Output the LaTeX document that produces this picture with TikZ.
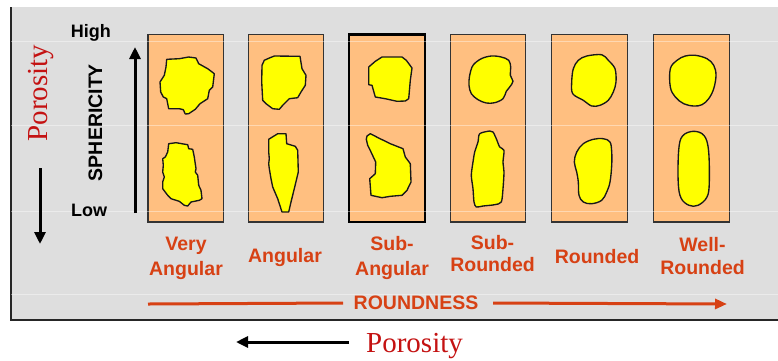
\documentclass[tikz,border=0pt]{standalone}
\usepackage{fontspec}
\setmainfont{Liberation Serif}
\setsansfont{Liberation Sans}
\usetikzlibrary{arrows.meta}
\definecolor{panelgray}{RGB}{222,222,222}
\definecolor{peach}{RGB}{255,191,128}
\definecolor{grainyellow}{RGB}{255,255,0}
\definecolor{labelred}{RGB}{215,65,20}
\definecolor{porored}{RGB}{196,18,18}
\definecolor{boxedge}{RGB}{51,51,51}

\begin{document}
\begin{tikzpicture}[x=1pt,y=-1pt,
  grainbox/.style={draw=boxedge, line width=1.2pt, fill=peach,
    minimum width=75.5pt, minimum height=187.5pt, inner sep=0pt},
  grain/.style={draw=black!90, line width=1.35pt, fill=grainyellow, line join=round},
  axislabel/.style={font=\fontsize{18}{20}\selectfont\sffamily\bfseries, inner sep=0pt},
  classlabel/.style={font=\fontsize{19.5}{22}\selectfont\sffamily\bfseries,
    text=labelred, inner sep=0pt, anchor=base},
  porotext/.style={font=\fontsize{29}{32}\selectfont\rmfamily, text=porored, inner sep=0pt},
  blackarrow/.style={line width=3pt, -{Triangle[length=12pt,width=11pt]}},
  redline/.style={draw=labelred, line width=3pt},
  gridline/.style={draw=white, opacity=0.4, line width=0.8pt},
]
\useasboundingbox (0,0) rectangle (778,360);
\fill[white] (0,0) rectangle (778,360);

% grey panel with left and bottom border
\fill[panelgray] (11,7) rectangle (778,320);
\draw[line width=1.2pt, black!85] (11,7) -- (11,320) -- (778,320);

% the six class boxes
\node[grainbox] (box1) at (185.8,128.3) {};
\node[grainbox] (box2) at (286.0,128.3) {};
\node[grainbox, draw=black, line width=2.4pt] (box3) at (387.0,128.3) {};
\node[grainbox] (box4) at (488.0,128.3) {};
\node[grainbox] (box5) at (589.5,128.3) {};
\node[grainbox] (box6) at (691.5,128.3) {};

% faint horizontal rules across the panel
\foreach \gy in {41,125,211,294}
  \draw[gridline] (11,\gy) -- (778,\gy);

% very angular grains
\begin{scope}[shift={(146,32)}]
  \draw[grain] (20.7,27.3) -- (33.3,26.7) -- (42.7,25) -- (50,26) -- (52.7,31.7)
    -- (61.7,36.7) -- (68.3,41.7) -- (66.7,55) -- (63.3,58.3) -- (61.7,66.7)
    -- (54,71.7) -- (49.3,77.3) -- (42.7,81.7) -- (39.3,82) -- (37.3,77.7)
    -- (33.3,76.7) -- (22.7,76.7) -- (20.7,66.7) -- (17.3,65) -- (14.7,60)
    -- (14,50) -- (18.3,43.3) -- (20,35) -- cycle;
  \draw[grain] (22.7,111.7) -- (30,110.7) -- (41.7,112.7) -- (42.7,116.7)
    -- (46.7,117.3) -- (48.3,125) -- (50,136.7) -- (49.3,140) -- (51.7,143.3)
    -- (52.7,153.3) -- (55,158.3) -- (56,166.7) -- (53.3,168.3) -- (45,170)
    -- (41.7,174) -- (38.3,173.3) -- (33.3,169.3) -- (25,166.7) -- (21.7,163.3)
    -- (16.7,156.7) -- (16.7,150) -- (18.3,145) -- (16.7,140) -- (17.3,133.3)
    -- (16.7,126.7) -- (19.3,125) -- (21.7,120) -- cycle;
\end{scope}

% angular grains
\begin{scope}[shift={(246,32)}]
  \draw[grain] (16,33.3) -- (18.3,28.3) -- (21.7,26.7) -- (28.3,24) -- (54,24.3)
    -- (56,36.7) -- (60,43.3) -- (59.3,53.3) -- (55,60) -- (51.7,65.7)
    -- (43.3,66.7) -- (36.7,73.3) -- (33.3,77.3) -- (26.7,76.7) -- (20,71.7)
    -- (16.7,68.3) -- (15.7,50) -- cycle;
  \draw[grain] (22.7,107.3) -- (31.7,101.7) -- (40,101.7) -- (40.7,111.7)
    -- (49.3,114.3) -- (51.7,118.3) -- (52.3,140) -- (48.3,156.7) -- (45,170)
    -- (42.7,180) -- (36,180) -- (31.7,166.7) -- (26.7,155) -- (25,146.7)
    -- (23.3,136.7) -- (22.7,131.7) -- (23.3,126.7) -- (22.7,120) -- cycle;
\end{scope}

% sub-angular grains
\begin{scope}[shift={(347,32)}]
  \draw[grain] (21.7,35) -- (28.3,29.3) -- (35,25) -- (55,25) -- (59.3,28.3)
    -- (65,36) -- (63.3,48.3) -- (61.7,66.7) -- (58.3,69) -- (50,69.3)
    -- (38.3,66.7) -- (28.3,65) -- (25,53.3) -- (21.7,52.7) -- cycle;
  \draw[grain] (20,104) -- (23.3,101.7) -- (31.7,106) -- (43.3,111.7)
    -- (56,116.7) -- (58.3,125) -- (63.3,131.7) -- (64,150) -- (60,158.3)
    -- (55,163.3) -- (43.3,164.3) -- (35,165.7) -- (24,163.3) -- (22.7,146.7)
    -- (28.3,141.7) -- (28.7,130) -- (24,120) -- (20.7,113.3) -- (19.3,107.3) -- cycle;
\end{scope}

% sub-rounded grains
\begin{scope}[shift={(448,32)}]
  \draw[grain] plot[smooth cycle, tension=0.55] coordinates {
    (21.7,43.3) (25,33.3) (33.3,26.7) (43.3,24) (53.3,25) (60.7,28.3)
    (62.7,35) (62.3,43.3) (65,49.3) (61.7,55) (58.3,59.3) (55,66.7)
    (46.7,70.7) (38.3,71) (30,67.7) (23.3,61.7) (21,53.3)};
  \draw[grain] plot[smooth cycle, tension=0.45] coordinates {
    (31.7,101.7) (41.7,99) (45,100) (48.3,106.7) (51.7,115) (56,118.3)
    (55,130) (56,140) (55,156.7) (53.3,170) (46.7,172.7) (35,174)
    (28.3,175) (26,170) (25,156.7) (23.3,143.3) (25,130) (26.7,120) (30,110)};
\end{scope}

% rounded grains
\begin{scope}[shift={(550,32)}]
  \draw[grain] plot[smooth cycle, tension=0.55] coordinates {
    (23.3,36.7) (28.3,28.3) (36.7,24) (51.7,22.7) (58.3,28.3) (65,36.7)
    (66,50) (63.3,60) (58.3,68.3) (50,73.3) (41.7,74) (33.3,68.3)
    (22.7,61.7) (21.7,50)};
  \draw[grain] plot[smooth cycle, tension=0.6] coordinates {
    (26.7,120) (33.3,111.7) (43.3,107.3) (53.3,106.7) (60,110) (61.7,120)
    (61.7,133.3) (60,150) (56.7,160) (51.7,168.3) (41.7,171.7) (33.3,170)
    (29,163.3) (28.3,150) (26.7,140) (24.3,130)};
\end{scope}

% well-rounded grains
\begin{scope}[shift={(652,32)}]
  \draw[grain] plot[smooth cycle, tension=0.6] coordinates {
    (18.3,36.7) (25,28.3) (33.3,24) (43.3,23.3) (55,26.7) (61.7,33.3)
    (64,43.3) (61.7,56.7) (56.7,66.7) (50,72.7) (41.7,74) (31.7,71.7)
    (23.3,65) (18.3,55)};
  \draw[grain] plot[smooth cycle, tension=0.6] coordinates {
    (41.5,99.3) (52,103.5) (56.5,118) (57.3,150) (55,165) (46,173.3)
    (37,173.3) (29,166) (26.2,150) (26.7,118) (30.5,104)};
\end{scope}

% sphericity axis
\node[axislabel, anchor=base west] (high) at (70.7,37.3) {High};
\node[axislabel, anchor=base west] (low) at (71,216.5) {Low};
\node[axislabel, font=\fontsize{19.5}{22}\selectfont\sffamily\bfseries, rotate=90]
  (spher) at (95.5,122.5) {SPHERICITY};
\coordinate (sphbottom) at (135,213);
\coordinate (sphtop) at (135,47);
\draw[blackarrow] (sphbottom) -- (sphtop);

% porosity on the left
\node[porotext, rotate=90] (poroleft) at (41.5,93) {Porosity};
\coordinate (pdtop) at (40,168);
\coordinate (pdbottom) at (40,244);
\draw[blackarrow] (pdtop) -- (pdbottom);

% class names
\node[classlabel] (vang1) at (186,250.7) {Very};
\node[classlabel] (vang2) at (186,275) {Angular};
\node[classlabel] (ang) at (285,262.3) {Angular};
\node[classlabel] (sang1) at (392,250.7) {Sub-};
\node[classlabel] (sang2) at (392,275) {Angular};
\node[classlabel] (srnd1) at (492.5,249.3) {Sub-};
\node[classlabel] (srnd2) at (492.5,271.7) {Rounded};
\node[classlabel] (rnd) at (597,263.3) {Rounded};
\node[classlabel] (wrnd1) at (702.5,251) {Well-};
\node[classlabel] (wrnd2) at (702.5,274.3) {Rounded};

% roundness axis
\node[classlabel, anchor=center] (round) at (416,303) {ROUNDNESS};
\coordinate (rstart) at (148,304);
\coordinate (rend) at (727,304);
\draw[redline] (rstart) -- (round.west -| 343,0);
\draw[redline, -{Triangle[length=12pt,width=10pt]}] (round.east -| 493,0) -- (rend);

% porosity below
\node[porotext, anchor=base west] (porobottom) at (366,352) {Porosity};
\coordinate (pbright) at (349,342);
\coordinate (pbleft) at (236,342);
\draw[blackarrow] (pbright) -- (pbleft);
\end{tikzpicture}
\end{document}
